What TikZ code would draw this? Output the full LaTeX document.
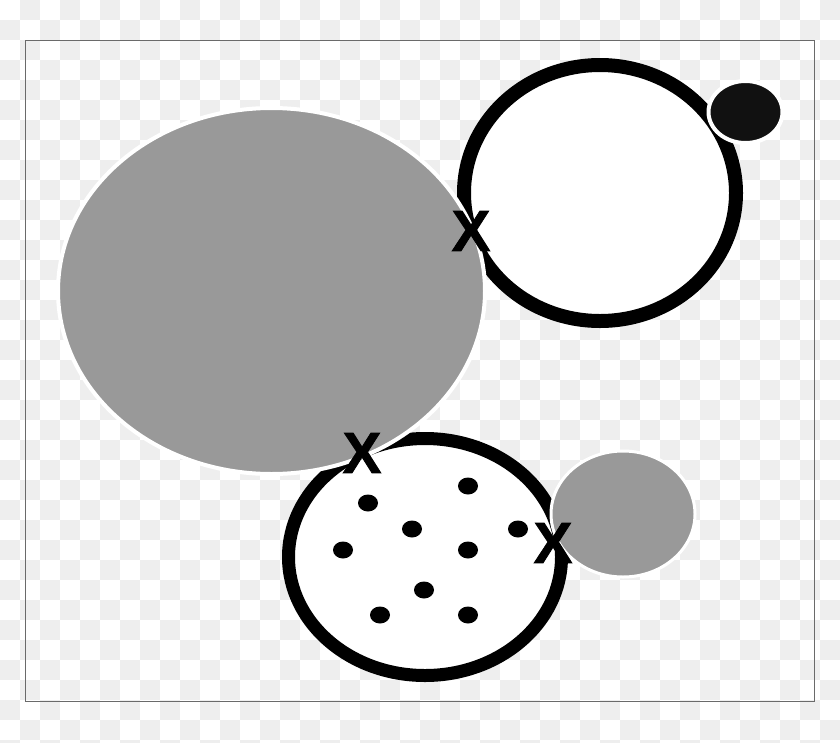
\documentclass[tikz,border=0pt]{standalone}
\usepackage{fontspec}
\newfontfamily\crossfont{Liberation Sans Bold}[FakeBold=1.5]
\usetikzlibrary{positioning}
\definecolor{checkgray}{HTML}{EEEEEE}
\definecolor{blobgray}{HTML}{999999}
\definecolor{nearblack}{HTML}{111111}
\definecolor{framegray}{HTML}{6A6A6A}
\tikzset{
    ring/.style={draw=black, fill=white},
    blob/.style={fill=blobgray, draw=white},
    dot/.style={fill=black},
    cross/.style={font=\crossfont\fontsize{58}{58}\selectfont, inner sep=0pt},
}

\begin{document}
\begin{tikzpicture}[x=1pt, y=-1pt]
    \useasboundingbox (0,0) rectangle (840,742);
    % backdrop
    \begin{scope}
        \clip (0,0) rectangle (840,742);
        \fill[white] (0,0) rectangle (840,742);
        \foreach \i in {0,...,41} \foreach \j in {0,...,37} {
            \pgfmathtruncatemacro{\odd}{mod(\i+\j,2)}
            \ifnum\odd=1 \fill[checkgray] (20*\i,20*\j) rectangle ++(20,20); \fi
        }
    \end{scope}
    \draw[framegray, line width=1pt] (25,40) rectangle (814,701);
    % rings
    \draw[ring, line width=14pt] (600,193) ellipse [x radius=136, y radius=128];
    \draw[ring, line width=13pt] (425,557) ellipse [x radius=136.5, y radius=118.5];
    \foreach \x/\y in {368/503, 468/486, 412/529, 518/529, 343/550,
                       468/550, 424/590, 380/615, 468/615}
        \fill[dot] (\x,\y) ellipse [x radius=10, y radius=8.5];
    % blobs
    \filldraw[blob, line width=4pt] (271.5,291) ellipse [x radius=213.5, y radius=183];
    \filldraw[blob, line width=3pt] (623,514) ellipse [x radius=72, y radius=63];
    \filldraw[fill=nearblack, draw=white, line width=4pt] (745.5,112) ellipse [x radius=37, y radius=31];
    % contact marks
    \node[cross] (x_top) at (471,231) {X};
    \node[cross] (x_mid) at (362,453) {X};
    \node[cross] (x_right) at (553,543) {X};
\end{tikzpicture}
\end{document}
